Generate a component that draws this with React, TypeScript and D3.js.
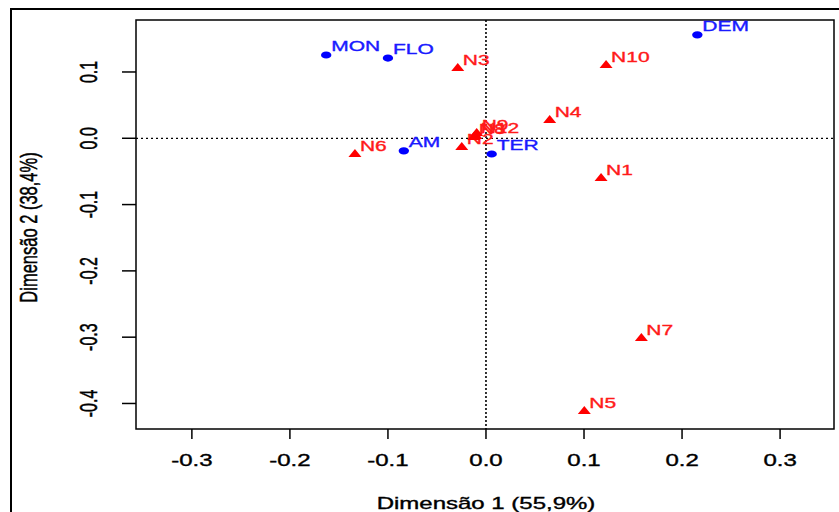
import React, { useRef, useEffect } from 'react';
import * as d3 from 'd3';

// columns (blue dots)
const colLabels = ['DEM', 'MON', 'FLO', 'AM', 'TER'];
const colX = [0.2156, -0.163, -0.1, -0.0838, 0.0058];
const colY = [0.156, 0.1256, 0.121, -0.019, -0.0237];

// rows (red triangles)
const rowLabels = ['N1', 'N2', 'N3', 'N4', 'N5', 'N6', 'N7', 'N8', 'N9', 'N10', 'N12'];
const rowX = [0.1174, -0.0247, -0.0288, 0.065, 0.1003, -0.1337, 0.1585, -0.0125, -0.0095, 0.1225, -0.0105];
const rowY = [-0.06, -0.013, 0.106, 0.0276, -0.4114, -0.0237, -0.3013, 0.002, 0.008, 0.1106, 0.0035];

const xTicks = [-0.3, -0.2, -0.1, 0.0, 0.1, 0.2, 0.3];
const yTicks = [0.1, 0.0, -0.1, -0.2, -0.3, -0.4];

const xTitle = 'Dimensão 1 (55,9%)';
const yTitle = 'Dimensão 2 (38,4%)';

const W = 839;
const H = 512;
const SX = 1.5; // picture is stretched sideways

const fmt = (v: number) => v.toFixed(1).replace('−', '-');

const App = () => {
  const svgRef = useRef<SVGSVGElement>(null);

  useEffect(() => {
    const svg = d3.select(svgRef.current);
    svg.selectAll('*').remove();

    const plot = { left: 136, right: 834, top: 20, bottom: 429 };

    const x = d3.scaleLinear().domain([-0.357, 0.355]).range([plot.left, plot.right]);
    const y = d3.scaleLinear().domain([0.1784, -0.4385]).range([plot.top, plot.bottom]);

    const font = 'Liberation Sans, Arial, sans-serif';

    // stretched text helper
    const label = (tx: number, ty: number, txt: string, opts: any = {}) => {
      const fill = opts.fill || '#000';
      const g = svg.append('g')
        .attr('transform', `translate(${tx},${ty}) scale(${SX},1)${opts.rotate ? ' rotate(-90)' : ''}`);
      g.append('text')
        .attr('text-anchor', opts.anchor || 'middle')
        .attr('font-family', font)
        .attr('font-size', opts.size || 16)
        .attr('fill', fill)
        .attr('stroke', fill)
        .attr('stroke-width', 0.35)
        .text(txt);
    };

    // outer frame
    svg.append('path')
      .attr('d', `M11,${H} V9 H${W}`)
      .attr('fill', 'none')
      .attr('stroke', '#000')
      .attr('stroke-width', 2);

    // reference lines at zero
    svg.append('line')
      .attr('x1', plot.left).attr('x2', plot.right)
      .attr('y1', y(0)).attr('y2', y(0))
      .attr('stroke', '#000').attr('stroke-width', 1.3).attr('stroke-dasharray', '2,3');
    svg.append('line')
      .attr('x1', x(0)).attr('x2', x(0))
      .attr('y1', plot.top).attr('y2', plot.bottom)
      .attr('stroke', '#000').attr('stroke-width', 1.6).attr('stroke-dasharray', '2,2');

    // plot box
    svg.append('rect')
      .attr('x', plot.left).attr('y', plot.top)
      .attr('width', plot.right - plot.left)
      .attr('height', plot.bottom - plot.top)
      .attr('fill', 'none')
      .attr('stroke', '#000')
      .attr('stroke-width', 1.5);

    // x axis ticks
    xTicks.forEach(t => {
      svg.append('line')
        .attr('x1', x(t)).attr('x2', x(t))
        .attr('y1', plot.bottom).attr('y2', plot.bottom + 10)
        .attr('stroke', '#000').attr('stroke-width', 1.5);
      label(x(t), 466, fmt(t));
    });

    // y axis ticks
    yTicks.forEach(t => {
      svg.append('line')
        .attr('x1', plot.left - 14).attr('x2', plot.left)
        .attr('y1', y(t)).attr('y2', y(t))
        .attr('stroke', '#000').attr('stroke-width', 1.5);
      label(97, y(t), fmt(t), { rotate: true });
    });

    // axis titles
    label((plot.left + plot.right) / 2 + 1, 509, xTitle);
    label(37, (plot.top + plot.bottom) / 2 + 3, yTitle, { rotate: true, size: 16.5 });

    // blue dots
    colLabels.forEach((name, i) => {
      svg.append('ellipse')
        .attr('cx', x(colX[i])).attr('cy', y(colY[i]))
        .attr('rx', 5.2).attr('ry', 3.6)
        .attr('fill', '#0000ff');
      label(x(colX[i]) + 5, y(colY[i]) - 4, name, { anchor: 'start', size: 14, fill: '#1a1aff' });
    });

    // red triangles
    const tri = 'M0,-5 L6.5,3 L-6.5,3 Z';
    rowLabels.forEach((name, i) => {
      svg.append('path')
        .attr('d', tri)
        .attr('transform', `translate(${x(rowX[i])},${y(rowY[i])})`)
        .attr('fill', '#ff0000');
      label(x(rowX[i]) + 5, y(rowY[i]) - 3, name, { anchor: 'start', size: 14, fill: '#ff1a1a' });
    });
  }, []);

  return (
    <svg
      ref={svgRef}
      width={W}
      height={H}
      style={{ position: 'absolute', left: 0, top: 0, background: '#fff' }}
    />
  );
};

export default App;
